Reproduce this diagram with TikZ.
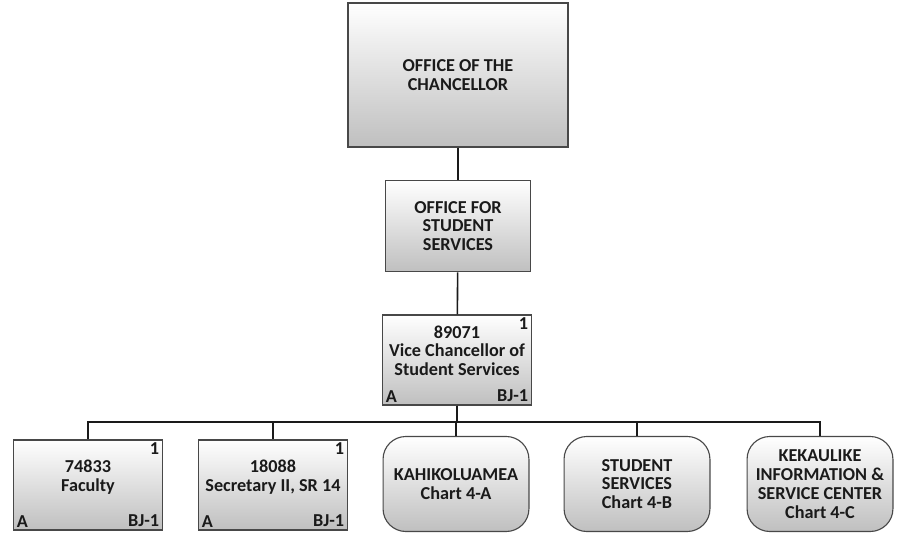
\documentclass[tikz,border=0pt]{standalone}
\usepackage{fontspec}
\setmainfont{Carlito}
\usetikzlibrary{positioning}
\definecolor{ink}{HTML}{1A1A1A}

\begin{document}
\begin{tikzpicture}[x=0.022cm,y=-0.022cm,
          every node/.style={font=\fontsize{11.4}{11.8}\selectfont\bfseries,text=ink},
          org/.style={rectangle,draw=ink!80,line width=.7pt,top color=white,
              bottom color=gray!50,align=center,inner sep=2pt},
          posbox/.style={org,minimum width=3.26cm,minimum height=1.98cm},
          chartbox/.style={org,rounded corners=.5cm,minimum width=3.21cm,minimum height=2.09cm},
          cornertxt/.style={inner sep=2pt},
          wire/.style={line width=1pt,ink}]
        \useasboundingbox (0,0) rectangle (898,539);

        \node[org,minimum width=4.84cm,minimum height=3.17cm] (chanc) at (458,75)
          {OFFICE OF THE\\CHANCELLOR};
        \node[org,minimum width=3.19cm,minimum height=2.02cm] (oss) at (458,226)
          {OFFICE FOR\\STUDENT\\SERVICES};
        \node[posbox] (vc) at (457,360)
          {89071\\Vice Chancellor of\\Student Services\\~};

        \node[posbox] (fac) at (88,485) {74833\\Faculty\\~};
        \node[posbox] (sec) at (273,485) {18088\\Secretary II, SR 14\\~};
        \node[chartbox] (kah) at (456,484) {KAHIKOLUAMEA\\Chart 4-A};
        \node[chartbox] (ss) at (637,484) {STUDENT\\SERVICES\\Chart 4-B};
        \node[chartbox] (kek) at (820,484)
          {KEKAULIKE\\INFORMATION \&\\SERVICE CENTER\\Chart 4-C};

        % count, account and band in the corners
        \foreach \n in {vc,fac,sec}{
          \node[cornertxt,anchor=north east] (\n-cnt) at (\n.north east) {1};
          \node[cornertxt,anchor=south west] (\n-acc) at (\n.south west) {A};
          \node[cornertxt,anchor=south east] (\n-band) at (\n.south east) {BJ-1};
        }

        \draw[wire] (chanc)--(oss);
        \draw[wire] (oss)--(vc);
        \coordinate (bus) at (457,422);
        \foreach \n in {fac,sec,kah,ss,kek}
          \draw[wire] (vc.south)--(bus)-|(\n.north);
      \end{tikzpicture}
\end{document}
